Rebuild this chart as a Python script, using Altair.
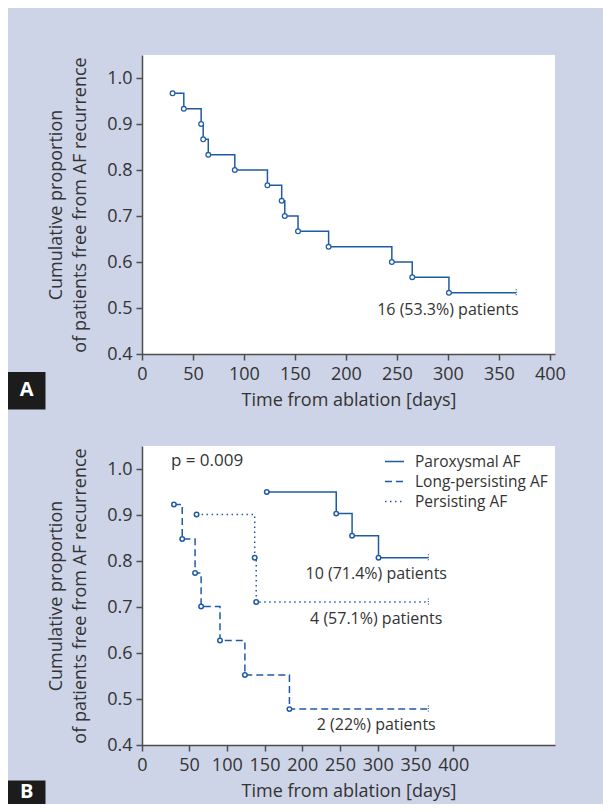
import altair as alt
import pandas as pd

# ---------------- data ----------------
# Panel A: all patients (event day, survival after event)
a_days = [30, 41, 58, 60, 65, 91, 123, 137, 140, 153, 183, 245, 265, 301]
a_surv = [0.967, 0.933, 0.900, 0.867, 0.833, 0.800, 0.767, 0.733, 0.700,
          0.667, 0.633, 0.600, 0.567, 0.533]
a_end_day = 367
a_note = "16 (53.3%) patients"
a_note_x, a_note_y = 300, 0.495

# Panel B: by AF type
groups = ["Paroxysmal AF", "Long-persisting AF", "Persisting AF"]
parox_days = [153, 245, 266, 301]
parox_surv = [0.950, 0.903, 0.855, 0.807]
long_days = [30, 41, 58, 66, 91, 124, 183]
long_surv = [0.923, 0.848, 0.774, 0.701, 0.627, 0.552, 0.478]
pers_days = [60, 137, 139]
pers_surv = [0.901, 0.807, 0.711]
b_end_day = 367
b_notes = ["10 (71.4%) patients", "4 (57.1%) patients", "2 (22%) patients"]
b_notes_x = [298, 298, 298]
b_notes_y = [0.7725, 0.675, 0.443]
p_text = "p = 0.009"
p_x, p_y = 26, 1.017

y_ticks = [0.4, 0.5, 0.6, 0.7, 0.8, 0.9, 1.0]
x_ticks_a = [0, 50, 100, 150, 200, 250, 300, 350, 400]
x_ticks_b = [-12.3, 50, 100, 150, 200, 250, 300, 350, 400]
panel_letters = ["A", "B"]

y_title = ["Cumulative proportion", "of patients free from AF recurrence"]
x_title = "Time from ablation [days]"

# ---------------- style ----------------
BLUE = "#1f5ba5"
TEXT = "#333333"
AXISC = "#4d4d4d"
BG = "#ced4e7"
FONT = "Open Sans"
W, H = 413, 299
BOX_X0, BOX_X1, BOX_XC = -134, -96.5, -115.3


def yaxis():
    return alt.Axis(values=y_ticks, format=".1f", grid=False, tickSize=6, tickWidth=1.5,
                    tickColor=AXISC, domainColor=AXISC, domainWidth=1.5,
                    labelFontSize=18, labelFont=FONT, labelColor=TEXT, labelPadding=4,
                    title=y_title, titleFontSize=18, titleFont=FONT, titleFontWeight="normal",
                    titleColor=TEXT, titlePadding=17, titleLineHeight=24)


def xaxis(values, expr=None):
    kw = dict(values=values, grid=False, tickSize=6, tickWidth=1.5, tickColor=AXISC,
              domainColor=AXISC, domainWidth=1.5, labelFontSize=18, labelFont=FONT,
              labelColor=TEXT, labelPadding=5, labelFlush=False, labelOverlap=False,
              title=x_title, titleFontSize=18, titleFont=FONT, titleFontWeight="normal",
              titleColor=TEXT, titlePadding=8)
    if expr:
        kw["labelExpr"] = expr
    else:
        kw["format"] = "d"
    return alt.Axis(**kw)


def letter_layers(letter, y0, y1, yc):
    d = pd.DataFrame({"letter": [letter]})
    box = alt.Chart(d).mark_rect(color="#1c1c1c").encode(
        x=alt.value(BOX_X0), x2=alt.value(BOX_X1), y=alt.value(y0), y2=alt.value(y1))
    txt = alt.Chart(d).mark_text(color="white", font=FONT, fontWeight="bold", fontSize=20,
                                 align="center", baseline="middle").encode(
        x=alt.value(BOX_XC), y=alt.value(yc), text="letter:N")
    return [box, txt]


# ---------------- panel A ----------------
xa = alt.X("day:Q", scale=alt.Scale(domain=[0, 405], nice=False, zero=False), axis=xaxis(x_ticks_a))
ya = alt.Y("surv:Q", scale=alt.Scale(domain=[0.4, 1.05], nice=False, zero=False), axis=yaxis())

a_line_df = pd.DataFrame({"day": a_days + [a_end_day], "surv": a_surv + [a_surv[-1]]})
a_pts_df = pd.DataFrame({"day": a_days, "surv": a_surv})
a_end_df = pd.DataFrame({"day": [a_end_day], "surv": [a_surv[-1]]})
a_note_df = pd.DataFrame({"day": [a_note_x], "surv": [a_note_y], "t": [a_note]})

a_line = alt.Chart(a_line_df).mark_line(interpolate="step-after", color=BLUE, strokeWidth=1.5).encode(x=xa, y=ya)
a_pts = alt.Chart(a_pts_df).mark_point(shape="circle", filled=True, fill="white", stroke=BLUE,
                                       strokeWidth=1.3, size=22, opacity=1).encode(x="day:Q", y="surv:Q")
a_end = alt.Chart(a_end_df).mark_point(shape="stroke", angle=90, size=49, strokeDash=[1, 1.5],
                                       strokeWidth=1.2, color=BLUE, opacity=1).encode(x="day:Q", y="surv:Q")
a_txt = alt.Chart(a_note_df).mark_text(font=FONT, fontSize=16, color=TEXT, align="center",
                                       baseline="middle").encode(x="day:Q", y="surv:Q", text="t:N")

panel_a = alt.layer(a_line, a_pts, a_end, a_txt,
                    *letter_layers(panel_letters[0], 317, 354.5, 335)).properties(width=W, height=H)

# ---------------- panel B ----------------
xb = alt.X("day:Q", scale=alt.Scale(domain=[-12.3, 534.8], nice=False, zero=False),
           axis=xaxis(x_ticks_b, "datum.value < 0 ? '0' : format(datum.value, 'd')"))
yb = alt.Y("surv:Q", scale=alt.Scale(domain=[0.4, 1.05], nice=False, zero=False), axis=yaxis())

series = [(groups[0], parox_days, parox_surv), (groups[1], long_days, long_surv),
          (groups[2], pers_days, pers_surv)]
rows_line, rows_pts, rows_end = [], [], []
for g, ds, ss in series:
    for d, s in zip(ds, ss):
        rows_line.append({"group": g, "day": d, "surv": s})
        rows_pts.append({"group": g, "day": d, "surv": s})
    rows_line.append({"group": g, "day": b_end_day, "surv": ss[-1]})
    rows_end.append({"group": g, "day": b_end_day, "surv": ss[-1]})
b_line_df = pd.DataFrame(rows_line)
b_pts_df = pd.DataFrame(rows_pts)
b_end_df = pd.DataFrame(rows_end)
b_note_df = pd.DataFrame({"day": b_notes_x, "surv": b_notes_y, "t": b_notes})
p_df = pd.DataFrame({"day": [p_x], "surv": [p_y], "t": [p_text]})

b_line = alt.Chart(b_line_df).mark_line(interpolate="step-after", color=BLUE, strokeWidth=1.5).encode(
    x=xb, y=yb,
    strokeDash=alt.StrokeDash(
        "group:N",
        scale=alt.Scale(domain=groups, range=[[1, 0], [7, 4], [1.5, 3.5]]),
        legend=alt.Legend(title=None, orient="none", legendX=242, legendY=5, symbolType="stroke",
                          symbolSize=361, symbolStrokeColor=BLUE, symbolStrokeWidth=1.5,
                          labelFontSize=15.5, labelFont=FONT, labelColor=TEXT, labelOffset=10,
                          rowPadding=1, padding=0)))
b_pts = alt.Chart(b_pts_df).mark_point(shape="circle", filled=True, fill="white", stroke=BLUE,
                                       strokeWidth=1.5, size=20, opacity=1).encode(x="day:Q", y="surv:Q")
b_end = alt.Chart(b_end_df).mark_point(shape="stroke", angle=90, size=49, strokeDash=[1, 1.5],
                                       strokeWidth=1.2, color=BLUE, opacity=1).encode(x="day:Q", y="surv:Q")
b_txt = alt.Chart(b_note_df).mark_text(font=FONT, fontSize=16, color=TEXT, align="center",
                                       baseline="middle").encode(x="day:Q", y="surv:Q", text="t:N")
p_txt = alt.Chart(p_df).mark_text(font=FONT, fontSize=17, color=TEXT, align="left",
                                  baseline="middle").encode(x="day:Q", y="surv:Q", text="t:N")

panel_b = alt.layer(b_line, b_pts, b_end, b_txt, p_txt,
                    *letter_layers(panel_letters[1], 334.5, 358, 346)).properties(width=W, height=H)

chart = alt.vconcat(panel_a, panel_b, spacing=92, bounds="flush").resolve_legend(
    strokeDash="independent"
).properties(
    padding={"left": 0, "top": 47, "right": 37, "bottom": 0},
    background=BG,
).configure_view(fill="white", strokeWidth=0)

chart.save("out.html", embed_options={"renderer": "svg", "actions": False})
